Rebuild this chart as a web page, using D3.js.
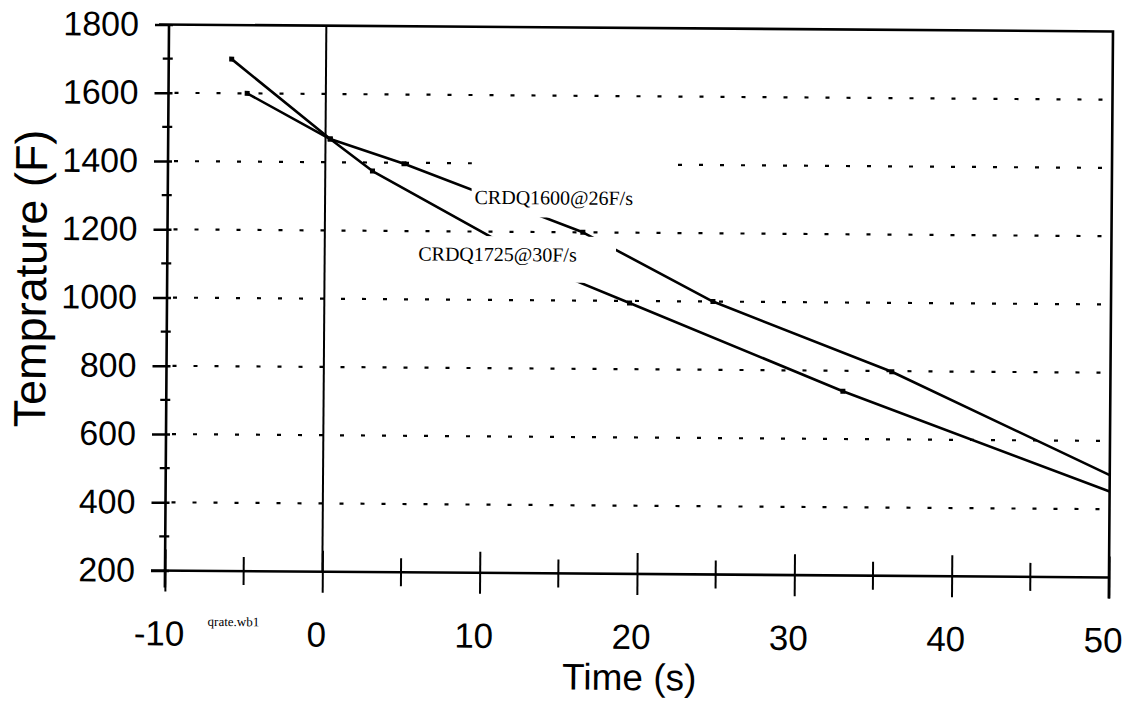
<!DOCTYPE html>
<html>
<head>
<meta charset="utf-8">
<script src="https://cdn.jsdelivr.net/npm/d3@7"></script>
<style>
  html, body { margin: 0; padding: 0; background: #fff; }
  svg { display: block; }
</style>
</head>
<body>
<svg id="chart" width="1131" height="703"></svg>
<script>
// Quench cooling curves: temperature vs. time for two CRDQ runs
const timeA = [-6, 0.3, 3, 14.5, 19.4, 33, 50];
const tempA = [1700, 1468, 1375, 1085, 994, 740, 452];
const timeB = [-5, 0.3, 5, 16.4, 24.7, 36.1, 50];
const tempB = [1600, 1468, 1397, 1200, 1000, 798, 500];
const seriesNames = ["CRDQ1725@30F/s", "CRDQ1600@26F/s"];

const xTicksMajor = [-10, 0, 10, 20, 30, 40, 50];
const xTicksMinor = [-5, 5, 15, 25, 35, 45];
const yTicksMajor = [200, 400, 600, 800, 1000, 1200, 1400, 1600, 1800];
const yTicksMinor = [300, 500, 700, 900, 1100, 1300, 1500, 1700];
const gridValues = [400, 600, 800, 1000, 1200, 1400, 1600];

const plotLeft = 167, plotRight = 1111, plotTop = 28, plotBottom = 574;
const x = d3.scaleLinear().domain([-10, 50]).range([plotLeft, plotRight]);
const y = d3.scaleLinear().domain([200, 1800]).range([plotBottom, plotTop]);

const svg = d3.select("#chart");
// whole sheet sits slightly skewed on the page
const g = svg.append("g").attr("transform", "rotate(0.42, 639, 301)");

const sans = "'Liberation Sans', Arial, Helvetica, sans-serif";
const serif = "'Liberation Serif', 'Times New Roman', serif";

// dotted horizontal grid
g.append("g").selectAll("line").data(gridValues).join("line")
  .attr("x1", plotLeft).attr("x2", plotRight)
  .attr("y1", d => y(d)).attr("y2", d => y(d))
  .attr("stroke", "#000").attr("stroke-width", 2.2)
  .attr("stroke-dasharray", "4,17").attr("stroke-dashoffset", -6);

// zero-time marker line
g.append("line")
  .attr("x1", x(0)).attr("x2", x(0)).attr("y1", plotTop).attr("y2", plotBottom)
  .attr("stroke", "#000").attr("stroke-width", 2);

// curves
const line = d3.line().x(d => x(d[0])).y(d => y(d[1]));
const dataA = timeA.map((t, i) => [t, tempA[i]]);
const dataB = timeB.map((t, i) => [t, tempB[i]]);
[dataA, dataB].forEach(data => {
  g.append("path").datum(data)
    .attr("d", line).attr("fill", "none")
    .attr("stroke", "#000").attr("stroke-width", 2.6)
    .attr("stroke-linejoin", "round");
  g.append("g").selectAll("rect").data(data.slice(0, -1)).join("rect")
    .attr("x", d => x(d[0]) - 2.5).attr("y", d => y(d[1]) - 2.5)
    .attr("width", 5).attr("height", 5).attr("fill", "#000");
});

// curve labels on opaque boxes
const labels = [
  { text: seriesNames[1], t: 9.5, v: 1281, pad: [3, 36, 40, 8] },
  { text: seriesNames[0], t: 5.95, v: 1114, pad: [10, 39, 7, 16] }
];
labels.forEach(l => {
  const box = g.append("rect").attr("fill", "#fff");
  const txt = g.append("text")
    .attr("x", x(l.t)).attr("y", y(l.v))
    .attr("font-family", serif).attr("font-size", 20)
    .text(l.text);
  const b = txt.node().getBBox();
  box.attr("x", b.x - l.pad[0]).attr("y", b.y - l.pad[2])
    .attr("width", b.width + l.pad[0] + l.pad[1])
    .attr("height", b.height + l.pad[2] + l.pad[3]);
});

// frame
g.append("path")
  .attr("d", `M${plotLeft - 10},${plotTop} H${plotRight} V${plotBottom + 21} M${plotLeft},${plotTop} V${plotBottom + 17} M${plotLeft - 14},${plotBottom} H${plotRight}`)
  .attr("fill", "none").attr("stroke", "#000").attr("stroke-width", 2.6);

// y axis ticks and labels
const yAxis = d3.axisLeft(y).tickValues(yTicksMajor).tickFormat(d3.format("d"))
  .tickSize(14).tickPadding(16);
const ya = g.append("g").attr("transform", `translate(${plotLeft},0)`).call(yAxis);
ya.select(".domain").remove();
ya.selectAll(".tick line").attr("x2", -14).attr("x1", 4).attr("stroke-width", 2.4);
ya.selectAll(".tick text").attr("font-family", sans).attr("font-size", 34).attr("fill", "#000");
g.append("g").selectAll("line").data(yTicksMinor).join("line")
  .attr("x1", plotLeft - 6).attr("x2", plotLeft + 4)
  .attr("y1", d => y(d)).attr("y2", d => y(d))
  .attr("stroke", "#000").attr("stroke-width", 2.2);

// x axis ticks and labels
const xAxis = d3.axisBottom(x).tickValues(xTicksMajor)
  .tickFormat(d => (d < 0 ? "-" : "") + Math.abs(d))
  .tickSize(21).tickPadding(29);
const xa = g.append("g").attr("transform", `translate(0,${plotBottom})`).call(xAxis);
xa.select(".domain").remove();
xa.selectAll(".tick line").attr("y1", -21).attr("y2", 21).attr("stroke-width", 2);
xa.selectAll(".tick text").attr("font-family", sans).attr("font-size", 35)
  .attr("fill", "#000").attr("dx", -6);
g.append("g").selectAll("line").data(xTicksMinor).join("line")
  .attr("x1", d => x(d)).attr("x2", d => x(d))
  .attr("y1", plotBottom - 14).attr("y2", plotBottom + 14)
  .attr("stroke", "#000").attr("stroke-width", 2);

// axis titles
g.append("text")
  .attr("x", 632).attr("y", 690).attr("text-anchor", "middle")
  .attr("font-family", sans).attr("font-size", 37).text("Time (s)");
g.append("text")
  .attr("transform", "translate(46,283) rotate(-90)").attr("text-anchor", "middle")
  .attr("font-family", sans).attr("font-size", 45).text("Temprature (F)");

// worksheet file tag
g.append("text")
  .attr("x", 210).attr("y", 629)
  .attr("font-family", serif).attr("font-size", 13).text("qrate.wb1");
</script>
</body>
</html>
